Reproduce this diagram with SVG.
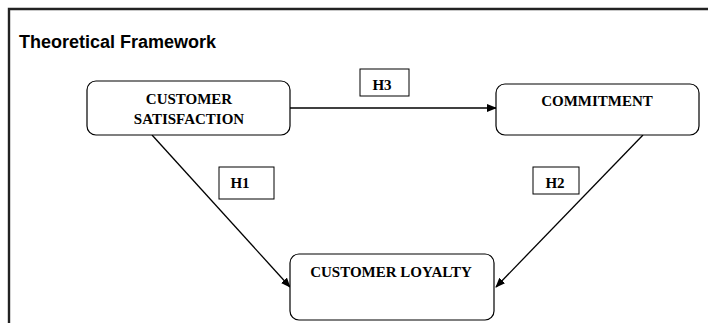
<svg xmlns="http://www.w3.org/2000/svg" width="708" height="323" viewBox="0 0 708 323">
<style>
.node{fill:#fff;stroke:#000;stroke-width:1.2}
.lbl{fill:#fff;stroke:#000;stroke-width:1}
.t{font-family:"Liberation Serif",serif;font-weight:bold;font-size:15px;fill:#000;text-anchor:middle}
.c{stroke:#000;stroke-width:1.3;fill:none;marker-end:url(#ah)}
</style>
<defs>
<marker id="ah" markerWidth="10" markerHeight="8" refX="9" refY="4" orient="auto" markerUnits="userSpaceOnUse">
<path d="M0,0 L10,4 L0,8 Z" fill="#000"/>
</marker>
</defs>
<rect width="708" height="323" fill="#fff"/>
<g id="frame">
<path d="M9,323 V9 H708" fill="none" stroke="#222" stroke-width="2.4"/>
<text x="19" y="48" font-family="Liberation Sans,Arial,sans-serif" font-weight="bold" font-size="18" fill="#000">Theoretical Framework</text>
</g>
<g id="connectors">
<line class="c" x1="290" y1="108" x2="496" y2="108"/>
<line class="c" x1="152" y1="135" x2="290" y2="287"/>
<line class="c" x1="643" y1="135" x2="496" y2="287"/>
</g>
<g id="satisfaction">
<rect class="node" x="87" y="81" width="203" height="54" rx="9"/>
<text class="t" x="189" y="104">CUSTOMER</text>
<text class="t" x="189" y="124">SATISFACTION</text>
</g>
<g id="commitment">
<rect class="node" x="496" y="84" width="203" height="51" rx="9"/>
<text class="t" x="597" y="106">COMMITMENT</text>
</g>
<g id="loyalty">
<rect class="node" x="290" y="254" width="204" height="66" rx="9"/>
<text class="t" x="391" y="277">CUSTOMER LOYALTY</text>
</g>
<g id="h3">
<rect class="lbl" x="360" y="69" width="49" height="27"/>
<text class="t" x="382" y="90">H3</text>
</g>
<g id="h1">
<rect class="lbl" x="219" y="167" width="55" height="32"/>
<text class="t" x="240" y="188">H1</text>
</g>
<g id="h2">
<rect class="lbl" x="533" y="167" width="46" height="27"/>
<text class="t" x="555" y="188">H2</text>
</g>
</svg>
